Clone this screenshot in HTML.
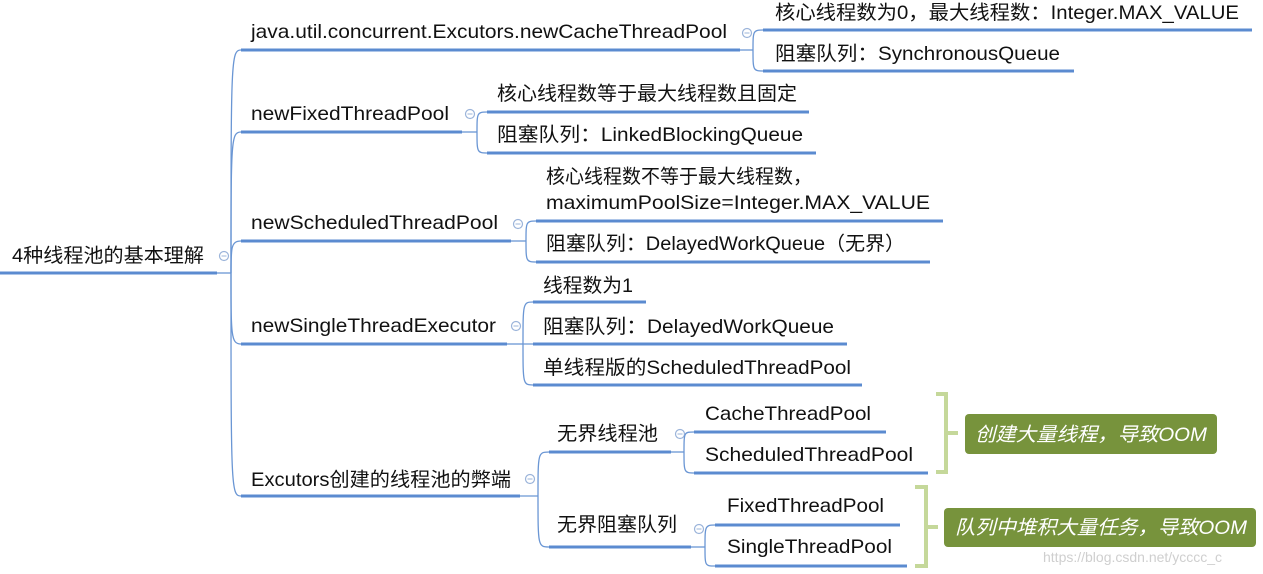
<!DOCTYPE html>
<html><head><meta charset="utf-8"><style>
html,body{margin:0;padding:0;background:#fff;width:1263px;height:574px;overflow:hidden}
svg text{font-family:"Liberation Sans","Noto Sans CJK SC",sans-serif;font-size:19.5px;fill:#111}
.u{stroke:#5b8bd0;stroke-width:3;fill:none}
.t{stroke:#6a96d4;stroke-width:1.3;fill:none}
.c{stroke:#9bb4da;stroke-width:1.2;fill:#fff}
.g{stroke:#c5d89a;stroke-width:4;fill:none}
</style></head><body>
<svg width="1263" height="574" viewBox="0 0 1263 574" xmlns="http://www.w3.org/2000/svg">
<!-- root -->
<text x="12" y="262" textLength="192" lengthAdjust="spacingAndGlyphs">4种线程池的基本理解</text>
<path class="u" d="M0 273 H217"/>
<path class="t" d="M217 273 H231"/>
<circle class="c" cx="224" cy="256" r="4.5"/><path d="M221.5 256h5" stroke="#9bb4da" stroke-width="1"/>
<!-- trunk curves -->
<path class="t" d="M231 273 C231 60 231 50 241 50"/>
<path class="t" d="M231 273 C231 140 231 132 241 132"/>
<path class="t" d="M231 273 C231 248 231 241 241 241"/>
<path class="t" d="M231 273 C231 336 231 344 241 344"/>
<path class="t" d="M231 273 C231 488 231 496 241 496"/>
<!-- branch1 -->
<text x="251" y="38" textLength="476" lengthAdjust="spacingAndGlyphs">java.util.concurrent.Excutors.newCacheThreadPool</text>
<path class="u" d="M241 50 H740"/><path class="t" d="M740 50 H753"/>
<circle class="c" cx="747" cy="33" r="4.5"/><path d="M744.5 33h5" stroke="#9bb4da" stroke-width="1"/>
<path class="t" d="M753 50 C753 31 753 30 763 30 M753 50 C753 70 753 71 763 71"/>
<text x="775" y="19" textLength="464" lengthAdjust="spacingAndGlyphs">核心线程数为0，最大线程数：Integer.MAX_VALUE</text>
<path class="u" d="M763 30 H1252"/>
<text x="775" y="60" textLength="285" lengthAdjust="spacingAndGlyphs">阻塞队列：SynchronousQueue</text>
<path class="u" d="M763 71 H1074"/>
<!-- branch2 -->
<text x="251" y="120" textLength="198" lengthAdjust="spacingAndGlyphs">newFixedThreadPool</text>
<path class="u" d="M241 132 H462"/><path class="t" d="M462 132 H477"/>
<circle class="c" cx="470" cy="114" r="4.5"/><path d="M467.5 114h5" stroke="#9bb4da" stroke-width="1"/>
<path class="t" d="M477 132 C477 113 477 112 487 112 M477 132 C477 152 477 153 487 153"/>
<text x="497" y="100" textLength="300" lengthAdjust="spacingAndGlyphs">核心线程数等于最大线程数且固定</text>
<path class="u" d="M487 112 H809"/>
<text x="497" y="141" textLength="306" lengthAdjust="spacingAndGlyphs">阻塞队列：LinkedBlockingQueue</text>
<path class="u" d="M487 153 H816"/>
<!-- branch3 -->
<text x="251" y="229" textLength="247" lengthAdjust="spacingAndGlyphs">newScheduledThreadPool</text>
<path class="u" d="M241 241 H511"/><path class="t" d="M511 241 H526"/>
<circle class="c" cx="518" cy="224" r="4.5"/><path d="M515.5 224h5" stroke="#9bb4da" stroke-width="1"/>
<path class="t" d="M526 241 C526 222 526 221 536 221 M526 241 C526 261 526 262 536 262"/>
<text x="546" y="183" textLength="266" lengthAdjust="spacingAndGlyphs">核心线程数不等于最大线程数，</text>
<text x="546" y="209" textLength="384" lengthAdjust="spacingAndGlyphs">maximumPoolSize=Integer.MAX_VALUE</text>
<path class="u" d="M536 221 H943"/>
<text x="546" y="250" textLength="359" lengthAdjust="spacingAndGlyphs">阻塞队列：DelayedWorkQueue（无界）</text>
<path class="u" d="M536 262 H930"/>
<!-- branch4 -->
<text x="251" y="332" textLength="245" lengthAdjust="spacingAndGlyphs">newSingleThreadExecutor</text>
<path class="u" d="M241 344 H507"/><path class="t" d="M507 344 H523"/>
<circle class="c" cx="516" cy="326" r="4.5"/><path d="M513.5 326h5" stroke="#9bb4da" stroke-width="1"/>
<path class="t" d="M523 344 C523 303 523 302 533 302 M523 344 H533 M523 344 C523 384 523 385 533 385"/>
<text x="543" y="292" textLength="90" lengthAdjust="spacingAndGlyphs">线程数为1</text>
<path class="u" d="M533 302 H646"/>
<text x="543" y="333" textLength="291" lengthAdjust="spacingAndGlyphs">阻塞队列：DelayedWorkQueue</text>
<path class="u" d="M533 344 H847"/>
<text x="543" y="374" textLength="308" lengthAdjust="spacingAndGlyphs">单线程版的ScheduledThreadPool</text>
<path class="u" d="M533 385 H862"/>
<!-- branch5 -->
<text x="251" y="486" textLength="260" lengthAdjust="spacingAndGlyphs">Excutors创建的线程池的弊端</text>
<path class="u" d="M241 496 H520"/><path class="t" d="M520 496 H538"/>
<circle class="c" cx="530" cy="479" r="4.5"/><path d="M527.5 479h5" stroke="#9bb4da" stroke-width="1"/>
<path class="t" d="M538 496 C538 453 538 452 549 452 M538 496 C538 546 538 547 549 547"/>
<text x="557" y="440" textLength="101" lengthAdjust="spacingAndGlyphs">无界线程池</text>
<path class="u" d="M549 452 H671"/><path class="t" d="M671 452 H684"/>
<circle class="c" cx="680" cy="434" r="4.5"/><path d="M677.5 434h5" stroke="#9bb4da" stroke-width="1"/>
<path class="t" d="M684 452 C684 432 684 432 694 432 M684 452 C684 472 684 473 694 473"/>
<text x="705" y="420" textLength="166" lengthAdjust="spacingAndGlyphs">CacheThreadPool</text>
<path class="u" d="M694 432 H886"/>
<text x="705" y="461" textLength="208" lengthAdjust="spacingAndGlyphs">ScheduledThreadPool</text>
<path class="u" d="M694 473 H928"/>
<text x="557" y="531" textLength="120" lengthAdjust="spacingAndGlyphs">无界阻塞队列</text>
<path class="u" d="M549 547 H691"/><path class="t" d="M691 547 H705"/>
<circle class="c" cx="699" cy="529" r="4.5"/><path d="M696.5 529h5" stroke="#9bb4da" stroke-width="1"/>
<path class="t" d="M705 547 C705 526 705 525 715 525 M705 547 C705 566 705 566 715 566"/>
<text x="727" y="512" textLength="157" lengthAdjust="spacingAndGlyphs">FixedThreadPool</text>
<path class="u" d="M715 525 H900"/>
<text x="727" y="553" textLength="165" lengthAdjust="spacingAndGlyphs">SingleThreadPool</text>
<path class="u" d="M715 566 H907"/>
<!-- brackets -->
<path class="g" d="M936 394 H946 V472 H936 M946 433 H958"/>
<path class="g" d="M915 487 H926 V566 H915 M926 527 H938"/>
<!-- summary boxes -->
<rect x="965" y="414" width="252" height="40" rx="4" fill="#77933c"/>
<text x="975" y="441" textLength="232" lengthAdjust="spacingAndGlyphs" style="fill:#fff;font-style:italic">创建大量线程，导致OOM</text>
<rect x="944" y="508" width="312" height="39" rx="4" fill="#77933c"/>
<text x="955" y="534" textLength="292" lengthAdjust="spacingAndGlyphs" style="fill:#fff;font-style:italic">队列中堆积大量任务，导致OOM</text>
<text x="1043" y="562" style="font-size:14px;fill:#cfcfcf">https://blog.csdn.net/ycccc_c</text>
</svg>
</body></html>
